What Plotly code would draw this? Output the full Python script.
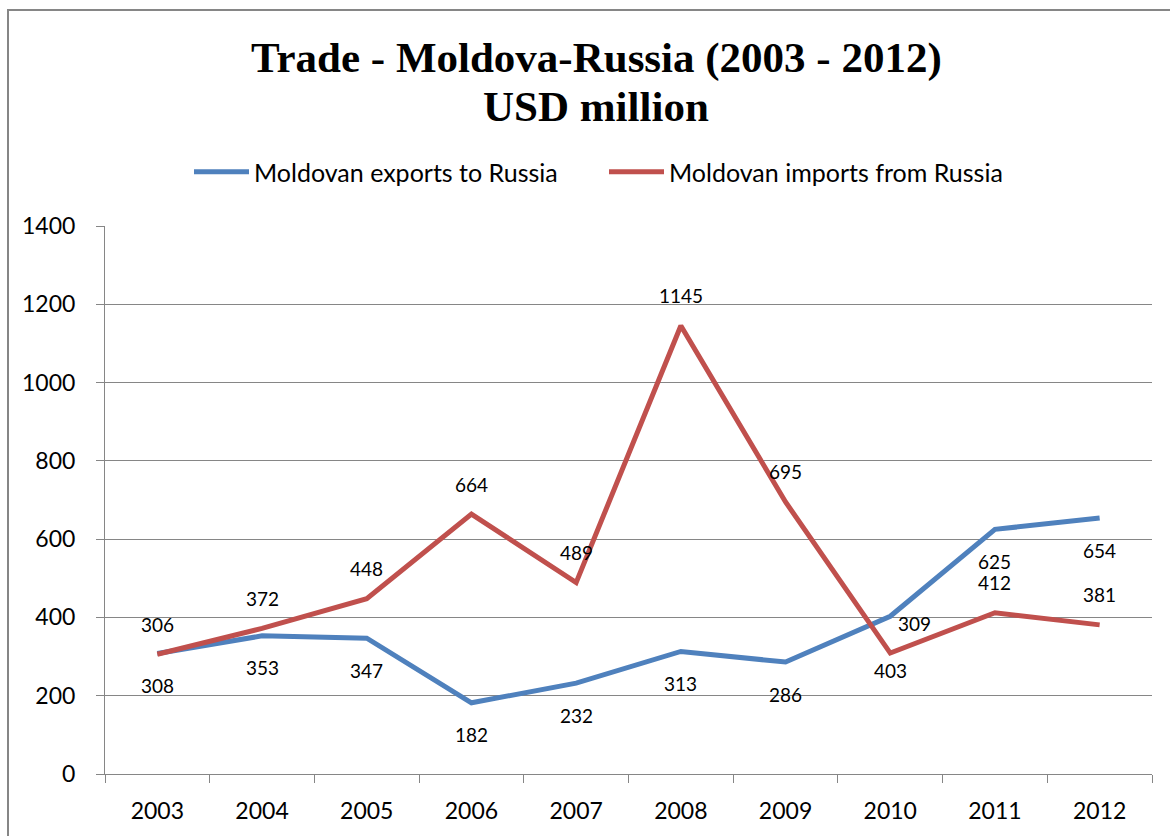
import plotly.graph_objects as go

# Moldova-Russia trade, USD million
years = ["2003", "2004", "2005", "2006", "2007", "2008", "2009", "2010", "2011", "2012"]
exports_to_russia = [308, 353, 347, 182, 232, 313, 286, 403, 625, 654]
imports_from_russia = [306, 372, 448, 664, 489, 1145, 695, 309, 412, 381]
y_ticks = [0, 200, 400, 600, 800, 1000, 1200, 1400]

BLUE = "#4F81BD"
RED = "#C0504D"
GRID = "#868686"
SANS = "Lato, 'Open Sans', sans-serif"
SERIF = "'Liberation Serif', 'Times New Roman', serif"

fig = go.Figure()
fig.add_trace(go.Scatter(
    x=years, y=exports_to_russia, mode="lines",
    name="Moldovan exports to Russia",
    line=dict(color=BLUE, width=5),
))
fig.add_trace(go.Scatter(
    x=years, y=imports_from_russia, mode="lines",
    name="Moldovan imports from Russia",
    line=dict(color=RED, width=5),
))

# value labels: exports beneath their points, imports above
# (category axis: position by category index); a couple of labels are
# nudged where the two lines cross
label_nudge = {("exp", 7): (0, -22), ("imp", 7): (24, 0)}
annotations = []
for key, series, shift in (("exp", exports_to_russia, -32), ("imp", imports_from_russia, 30)):
    for i, v in enumerate(series):
        dx, dy = label_nudge.get((key, i), (0, 0))
        annotations.append(dict(x=i, y=v, xref="x", yref="y", text=str(v),
                                showarrow=False, xshift=dx, yshift=shift + dy,
                                font=dict(family=SANS, size=19, color="black")))

# two-line chart title
title_lines = ["Trade - Moldova-Russia (2003 - 2012)", "USD million"]
title_y_px = [58, 106]
for line, ypx in zip(title_lines, title_y_px):
    annotations.append(dict(text=f"<b>{line}</b>", xref="paper", yref="paper",
                            x=(596 - 105) / 1047, y=(774 - ypx) / 548,
                            xanchor="center", yanchor="middle", showarrow=False,
                            font=dict(family=SERIF, size=43, color="black")))

fig.update_layout(
    width=1170, height=836,
    margin=dict(l=105, r=18, t=226, b=62),
    paper_bgcolor="white", plot_bgcolor="white",
    legend=dict(
        orientation="h", x=(189 - 105) / 1047, xanchor="left",
        y=(774 - 172) / 548, yanchor="middle",
        font=dict(family=SANS, size=25, color="black"),
        itemwidth=55, entrywidth=345, bgcolor="rgba(0,0,0,0)",
    ),
    annotations=annotations,
    showlegend=True,
)

fig.update_xaxes(
    type="category", tickson="boundaries", ticks="outside", ticklen=8,
    tickcolor=GRID, showline=True, linecolor=GRID, linewidth=1,
    showgrid=False, tickfont=dict(family=SANS, size=23, color="black"),
    ticklabelstandoff=16, range=[-0.5, 9.5],
)
fig.update_yaxes(
    range=[0, 1400], tickvals=y_ticks, ticks="outside", ticklen=8,
    tickcolor=GRID, showline=True, linecolor=GRID, linewidth=1,
    showgrid=True, gridcolor=GRID, gridwidth=1, zeroline=False,
    tickfont=dict(family=SANS, size=23, color="black"),
    ticklabelstandoff=16,
)

# outer chart frame
fig.add_shape(type="rect", xref="paper", yref="paper",
              x0=-97 / 1047, x1=1.2, y0=-0.2, y1=(774 - 10) / 548,
              line=dict(color=GRID, width=2), fillcolor="rgba(0,0,0,0)", layer="below")

fig.write_html("out.html")
